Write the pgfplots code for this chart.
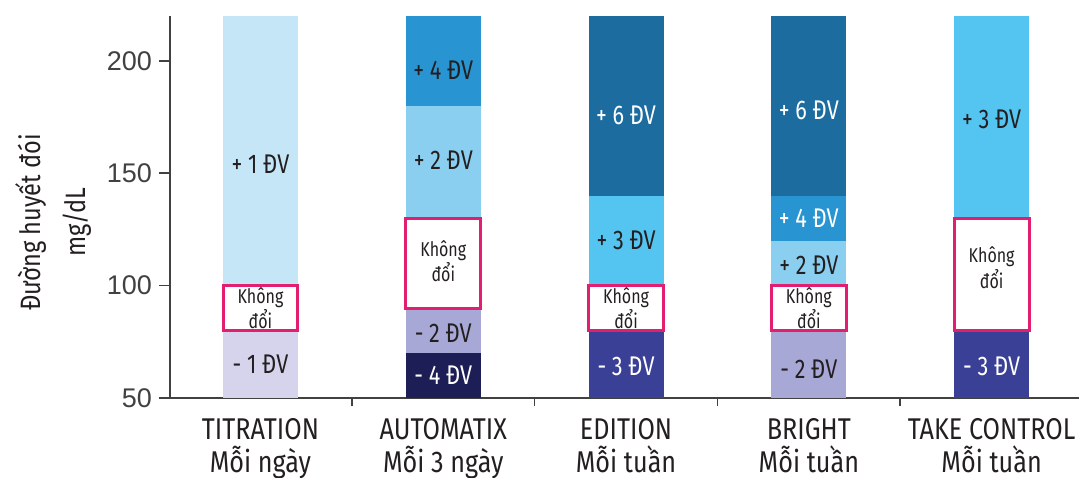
\documentclass[border=0pt]{standalone}
\usepackage{fontspec}
\setmainfont{Fira Sans}
\newfontfamily\catfont[FakeStretch=0.84]{Fira Sans}
\newfontfamily\segfont[FakeStretch=0.8]{Fira Sans}
\newfontfamily\numfont{Liberation Sans}
\usepackage{pgfplots}
\pgfplotsset{compat=1.18}

\definecolor{lavLight}{RGB}{214,212,236}
\definecolor{lavMid}{RGB}{168,168,214}
\definecolor{navy}{RGB}{30,30,86}
\definecolor{indigo}{RGB}{58,64,150}
\definecolor{skyPale}{RGB}{196,230,247}
\definecolor{skyLight}{RGB}{138,207,240}
\definecolor{skyBright}{RGB}{84,196,240}
\definecolor{blueMid}{RGB}{40,148,210}
\definecolor{blueDark}{RGB}{28,108,160}
\definecolor{boxPink}{RGB}{226,30,112}
\definecolor{ink}{RGB}{35,31,32}
\definecolor{axisGray}{RGB}{65,65,65}

% one block of a titration column: category index, lower and upper glucose bound, style
\newcommand\seg[4]{%
  \pgfmathsetmacro\xl{#1-0.205}\pgfmathsetmacro\xr{#1+0.205}%
  \addplot[#4] coordinates {(\xl,#2) (\xr,#2) (\xr,#3) (\xl,#3)} -- cycle;}
% dose step written inside a block
\newcommand\lab[4]{\node[text=#4, font=\segfont\fontsize{13.5}{13.5}\selectfont] at (axis cs:#1,#2) {#3};}
\newcommand\keep[2]{\node[text=ink, align=center, font=\segfont\fontsize{10}{11.5}\selectfont] at (axis cs:#1,#2) {Không\\đổi};}

\begin{document}
\begin{tikzpicture}
\begin{axis}[
  scale only axis, width=454.5pt, height=191pt,
  xmin=-0.495, xmax=4.478, ymin=50, ymax=220,
  axis lines=left,
  axis line style={-, draw=axisGray, line width=0.8pt},
  tick align=outside,
  major tick length=5.5pt, minor tick length=4pt,
  ytick={50,100,150,200},
  ytick style={draw=axisGray, line width=0.8pt},
  xtick={0,...,4},
  major x tick style={draw=none},
  minor xtick={0.5,1.5,2.5,3.5},
  minor x tick style={draw=axisGray, line width=0.8pt},
  xticklabels={{TITRATION\\Mỗi ngày},{AUTOMATIX\\Mỗi 3 ngày},{EDITION\\Mỗi tuần},{BRIGHT\\Mỗi tuần},{TAKE CONTROL\\Mỗi tuần}},
  xticklabel style={font=\catfont\fontsize{15}{16.5}\selectfont, align=center, text=ink, yshift=-1pt},
  /pgf/number format/assume math mode=true,
  yticklabel style={font=\numfont\fontsize{13.5}{13.5}\selectfont, text=axisGray},
  ylabel={Đường huyết đói\\mg/dL},
  every axis y label/.style={at={(axis description cs:0,0.46)}, xshift=-58.5pt, rotate=90,
    anchor=center, align=center, text=ink, font=\catfont\fontsize{14}{22.5}\selectfont},
]
% TITRATION
\seg{0}{50}{80}{fill=lavLight, draw=none}
\seg{0}{100}{220}{fill=skyPale, draw=none}
% AUTOMATIX
\seg{1}{50}{70}{fill=navy, draw=none}
\seg{1}{70}{90}{fill=lavMid, draw=none}
\seg{1}{130}{180}{fill=skyLight, draw=none}
\seg{1}{180}{220}{fill=blueMid, draw=none}
% EDITION
\seg{2}{50}{80}{fill=indigo, draw=none}
\seg{2}{100}{140}{fill=skyBright, draw=none}
\seg{2}{140}{220}{fill=blueDark, draw=none}
% BRIGHT
\seg{3}{50}{80}{fill=lavMid, draw=none}
\seg{3}{100}{120}{fill=skyLight, draw=none}
\seg{3}{120}{140}{fill=blueMid, draw=none}
\seg{3}{140}{220}{fill=blueDark, draw=none}
% TAKE CONTROL
\seg{4}{50}{80}{fill=indigo, draw=none}
\seg{4}{130}{220}{fill=skyBright, draw=none}
% target ranges: dose unchanged
\seg{0}{80}{100}{fill=white, draw=boxPink, line width=1.5pt}
\seg{1}{90}{130}{fill=white, draw=boxPink, line width=1.5pt}
\seg{2}{80}{100}{fill=white, draw=boxPink, line width=1.5pt}
\seg{3}{80}{100}{fill=white, draw=boxPink, line width=1.5pt}
\seg{4}{80}{130}{fill=white, draw=boxPink, line width=1.5pt}

\lab{0}{154}{+ 1 ĐV}{ink}
\lab{0}{65}{- 1 ĐV}{ink}
\keep{0}{90}
\lab{1}{196}{+ 4 ĐV}{ink}
\lab{1}{156}{+ 2 ĐV}{ink}
\keep{1}{111}
\lab{1}{79}{- 2 ĐV}{ink}
\lab{1}{60}{- 4 ĐV}{white}
\lab{2}{176}{+ 6 ĐV}{white}
\lab{2}{120}{+ 3 ĐV}{ink}
\keep{2}{90}
\lab{2}{64}{- 3 ĐV}{white}
\lab{3}{178}{+ 6 ĐV}{white}
\lab{3}{130}{+ 4 ĐV}{white}
\lab{3}{109}{+ 2 ĐV}{ink}
\keep{3}{90}
\lab{3}{63}{- 2 ĐV}{ink}
\lab{4}{174}{+ 3 ĐV}{ink}
\keep{4}{108}
\lab{4}{64}{- 3 ĐV}{white}
\end{axis}
\pgfresetboundingbox
\path[use as bounding box] (-85pt,-39.5pt) rectangle (454.5pt,199pt);
\end{tikzpicture}
\end{document}
